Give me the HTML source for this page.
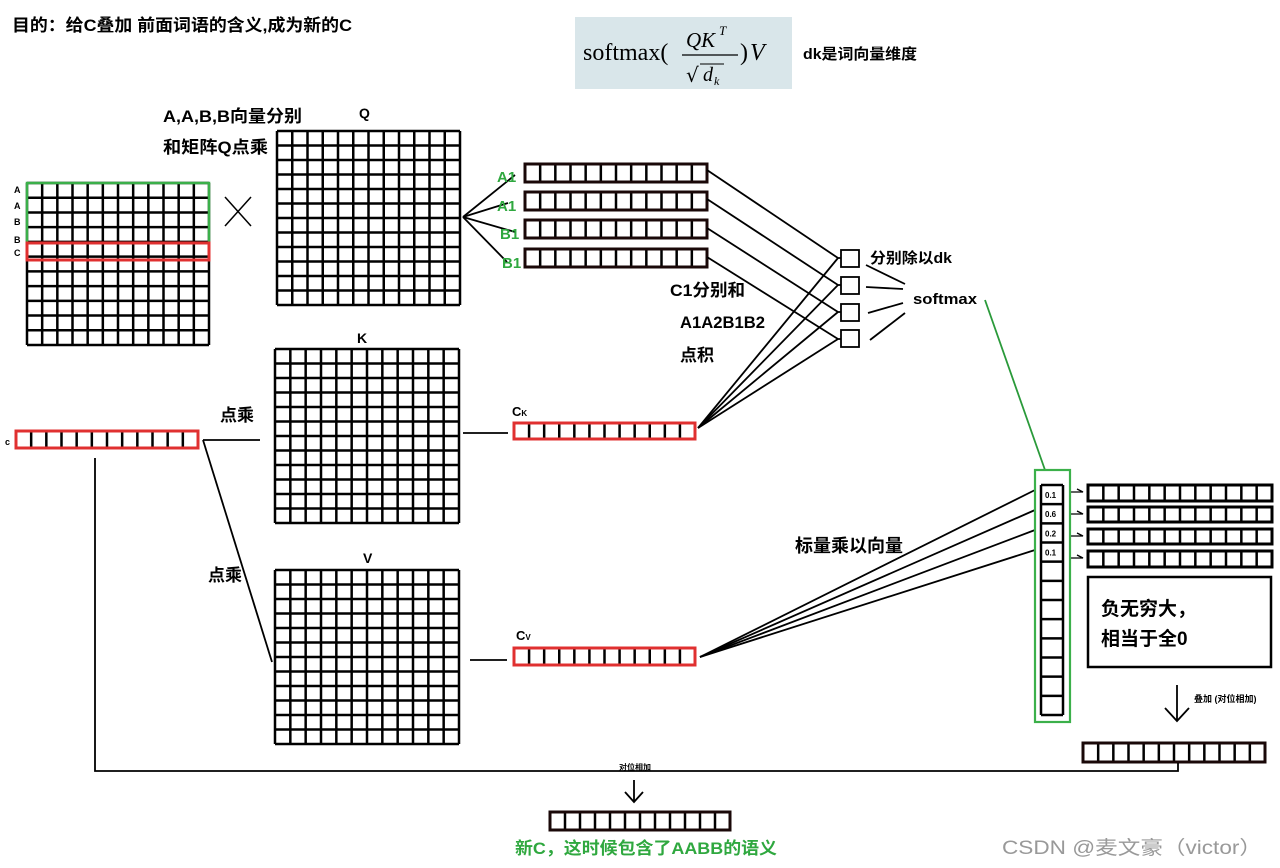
<!DOCTYPE html>
<html><head><meta charset="utf-8">
<style>
html,body{margin:0;padding:0;background:#fff;}
svg{display:block;}
text{font-family:"Liberation Sans","Noto Sans CJK SC",sans-serif;font-weight:bold;}
</style></head>
<body>
<svg id="s" width="1280" height="868" viewBox="0 0 1280 868" xmlns="http://www.w3.org/2000/svg">
<rect width="1280" height="868" fill="#fff"/>
<text x="12" y="31" font-size="17" textLength="340" lengthAdjust="spacingAndGlyphs">目的：给C叠加 前面词语的含义,成为新的C</text>
<rect x="575" y="17" width="217" height="72" fill="#d9e6ea"/>
<text x="583" y="60" font-size="24" style="font-family:'Liberation Serif',serif;font-weight:normal">softmax(</text>
<text x="686" y="47" font-size="21" font-style="italic" style="font-family:'Liberation Serif',serif;font-weight:normal">QK</text>
<text x="719" y="35" font-size="13" font-style="italic" style="font-family:'Liberation Serif',serif;font-weight:normal">T</text>
<line x1="682" y1="55" x2="738" y2="55" stroke="#000" stroke-width="1.3"/>
<text x="686" y="82" font-size="20" style="font-family:'DejaVu Sans',serif;font-weight:normal">√</text>
<line x1="700" y1="64" x2="724" y2="64" stroke="#000" stroke-width="1"/>
<text x="703" y="81" font-size="20" font-style="italic" style="font-family:'Liberation Serif',serif;font-weight:normal">d</text>
<text x="714" y="85" font-size="12" font-style="italic" style="font-family:'Liberation Serif',serif;font-weight:normal">k</text>
<text x="740" y="60" font-size="24" style="font-family:'Liberation Serif',serif;font-weight:normal">)</text>
<text x="750" y="60" font-size="24" font-style="italic" style="font-family:'Liberation Serif',serif;font-weight:normal">V</text>
<text x="803" y="59" font-size="15" textLength="114" lengthAdjust="spacingAndGlyphs">dk是词向量维度</text>

<text x="163" y="122" font-size="17" textLength="139" lengthAdjust="spacingAndGlyphs">A,A,B,B向量分别</text>
<text x="163" y="153" font-size="17" textLength="105" lengthAdjust="spacingAndGlyphs">和矩阵Q点乘</text>
<text x="359" y="118" font-size="14">Q</text>
<text x="357" y="343" font-size="14">K</text>
<text x="363" y="563" font-size="14">V</text>
<g font-size="9"><text x="14" y="193">A</text><text x="14" y="209">A</text><text x="14" y="225">B</text><text x="14" y="243">B</text><text x="14" y="256">C</text><text x="5" y="445">c</text></g>
<line x1="225" y1="197" x2="251" y2="226" stroke="#000" stroke-width="1.5"/>
<line x1="251" y1="197" x2="225" y2="226" stroke="#000" stroke-width="1.5"/>

<g id="grids"></g>

<g stroke="#000" stroke-width="1.8" fill="none">
<line x1="463" y1="217" x2="515" y2="175"/><line x1="463" y1="217" x2="508" y2="203"/>
<line x1="463" y1="217" x2="515" y2="232"/><line x1="463" y1="217" x2="507" y2="262"/>
<polyline points="707,170 838,258 841,258"/><polyline points="707,199 838,285 841,285"/>
<polyline points="707,228 838,312 841,312"/><polyline points="707,257 838,339 841,339"/>
<line x1="698" y1="428" x2="838" y2="258"/><line x1="698" y1="428" x2="838" y2="285"/>
<line x1="698" y1="428" x2="838" y2="312"/><line x1="698" y1="428" x2="838" y2="339"/>
<rect x="841" y="250" width="18" height="17"/><rect x="841" y="277" width="18" height="17"/>
<rect x="841" y="304" width="18" height="17"/><rect x="841" y="330" width="18" height="17"/>
<line x1="866" y1="265" x2="905" y2="284"/><line x1="866" y1="287" x2="903" y2="289"/>
<line x1="868" y1="313" x2="903" y2="303"/><line x1="870" y1="340" x2="905" y2="313"/>
<line x1="203" y1="440" x2="260" y2="440"/><line x1="203" y1="440" x2="272" y2="662"/>
<line x1="463" y1="433" x2="508" y2="433"/><line x1="470" y1="660" x2="507" y2="660"/>
<polyline points="95,458 95,771 1178,771 1178,763"/>
<line x1="634" y1="780" x2="634" y2="802"/><polyline points="625,792 634,802 643,792"/>
<line x1="1177" y1="685" x2="1177" y2="720"/><polyline points="1165,708 1177,721 1189,708"/>
<line x1="700" y1="657" x2="1035" y2="490"/><line x1="700" y1="657" x2="1035" y2="510"/>
<line x1="700" y1="657" x2="1035" y2="530"/><line x1="700" y1="657" x2="1035" y2="550"/>
<rect x="1088" y="577" width="183" height="90" stroke-width="2.5"/>
</g>
<g stroke="#000" stroke-width="1.3" fill="none">
<polyline points="1070,492 1083,492 1077,489"/><polyline points="1070,514 1083,514 1077,511"/>
<polyline points="1070,536 1083,536 1077,533"/><polyline points="1070,558 1083,558 1077,555"/>
</g>
<line x1="985" y1="300" x2="1045" y2="470" stroke="#2a9a3a" stroke-width="1.8"/>
<rect x="1035" y="470" width="35" height="252" fill="none" stroke="#3bb04a" stroke-width="2.2"/>
<text x="870" y="263" font-size="15" textLength="82" lengthAdjust="spacingAndGlyphs">分别除以dk</text>
<text x="913" y="304" font-size="15" textLength="64" lengthAdjust="spacingAndGlyphs">softmax</text>
<text x="670" y="296" font-size="17" textLength="75" lengthAdjust="spacingAndGlyphs">C1分别和</text>
<text x="680" y="328" font-size="17" textLength="85" lengthAdjust="spacingAndGlyphs">A1A2B1B2</text>
<text x="680" y="361" font-size="17">点积</text>
<g fill="#2fa83f" font-size="15"><text x="497" y="182">A1</text><text x="497" y="211">A1</text><text x="500" y="239">B1</text><text x="502" y="268">B1</text></g>
<text x="512" y="416" font-size="13">C<tspan font-size="8">K</tspan></text>
<text x="516" y="640" font-size="13">C<tspan font-size="8">V</tspan></text>
<text x="220" y="421" font-size="17">点乘</text>
<text x="208" y="581" font-size="17">点乘</text>
<text x="795" y="552" font-size="18" textLength="108" lengthAdjust="spacingAndGlyphs">标量乘以向量</text>
<text x="1101" y="615" font-size="19">负无穷大，</text>
<text x="1101" y="645" font-size="19">相当于全0</text>
<text x="1194" y="702" font-size="9">叠加 (对位相加)</text>
<text x="619" y="770" font-size="8">对位相加</text>
<text x="515" y="854" font-size="17" fill="#2fa83f" textLength="262" lengthAdjust="spacingAndGlyphs">新C，这时候包含了AABB的语义</text>
<text x="1002" y="854" font-size="19" fill="#999" style="font-weight:normal" textLength="260" lengthAdjust="spacingAndGlyphs">CSDN @麦文豪（victor）</text>
</svg>
<script>
var g=document.getElementById('grids'),NS='http://www.w3.org/2000/svg';
function L(x1,y1,x2,y2,c,w){var l=document.createElementNS(NS,'line');l.setAttribute('x1',x1);l.setAttribute('y1',y1);l.setAttribute('x2',x2);l.setAttribute('y2',y2);l.setAttribute('stroke',c||'#000');l.setAttribute('stroke-width',w||2.5);g.appendChild(l);}
function R(x,y,w,h,c,sw){var r=document.createElementNS(NS,'rect');r.setAttribute('x',x);r.setAttribute('y',y);r.setAttribute('width',w);r.setAttribute('height',h);r.setAttribute('fill','none');r.setAttribute('stroke',c);r.setAttribute('stroke-width',sw);g.appendChild(r);}
function grid(x,y,w,h,cols,rows,sw){for(var i=0;i<=cols;i++)L(x+w*i/cols,y,x+w*i/cols,y+h,'#000',sw);for(var j=0;j<=rows;j++)L(x,y+h*j/rows,x+w,y+h*j/rows,'#000',sw);}
function vec(x,y,w,h,border){grid(x,y,w,h,12,1,2.5);if(border)R(x,y,w,h,border,3);}
grid(27,183,182,162,12,11,2.5);
R(27,183,182,60,'#3bb04a',2.5);R(27,243,182,17,'#e03030',3);
grid(277,131,183,174,12,12,2.5);
grid(275,349,184,174,12,12,2.5);
grid(275,570,184,174,12,12,2.5);
vec(16,431,182,17,'#e03030');
vec(525,164,182,18,'#1a0808');vec(525,192,182,18,'#1a0808');vec(525,220,182,18,'#1a0808');vec(525,249,182,18,'#1a0808');
vec(514,423,181,16,'#e03030');vec(514,648,181,17,'#e03030');
vec(1088,485,184,16,'#000');vec(1088,507,184,15,'#000');vec(1088,529,184,15,'#000');vec(1088,551,184,16,'#000');
vec(1083,743,182,19,'#1a0808');vec(550,812,180,18,'#1a0808');
for(var k=0;k<=12;k++)L(1041,485+k*230/12,1063,485+k*230/12,'#000',2.5);
L(1041,485,1041,715);L(1063,485,1063,715);
var vals=['0.1','0.6','0.2','0.1'];
for(var k=0;k<4;k++){var t=document.createElementNS(NS,'text');t.setAttribute('x',1045);t.setAttribute('y',485+k*19.17+13);t.setAttribute('font-size','8');t.textContent=vals[k];g.appendChild(t);}
</script>
</body></html>
